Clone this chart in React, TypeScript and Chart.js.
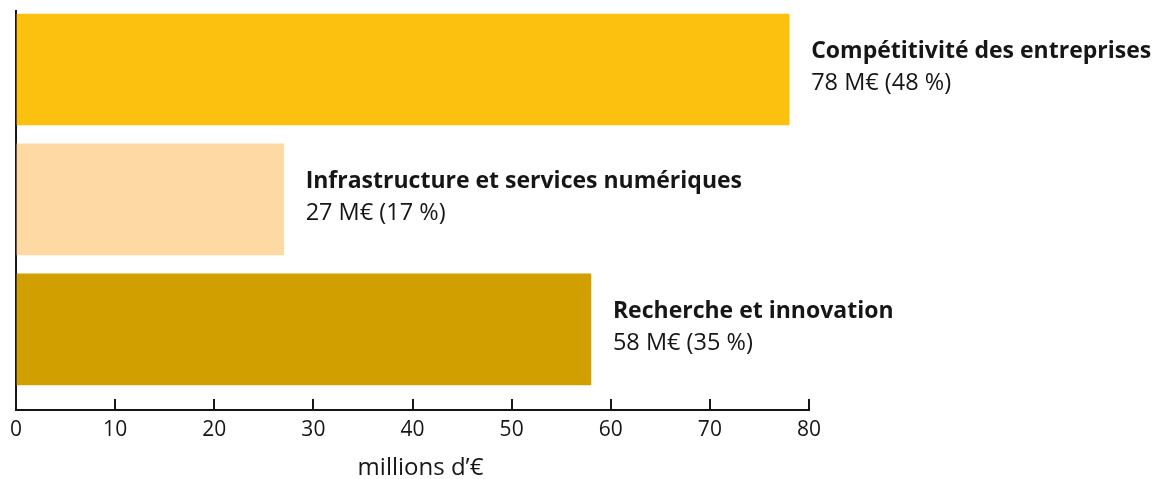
import React, { useEffect, useRef } from "react";
import { Chart, registerables } from "chart.js";

Chart.register(...registerables);

const categories = [
  "Compétitivité des entreprises",
  "Infrastructure et services numériques",
  "Recherche et innovation",
];
const values = [78, 27, 58];
const percents = [48, 17, 35];
const barColors = ["#FCC00F", "#FED9A3", "#D29F00"];
const xMin = 0;
const xMax = 80;
const xStep = 10;
const xTitle = "millions d’€";

const TEXT = "#161616";
const AXIS = "#161616";

const labelPlugin = {
  id: "barLabels",
  afterDatasetsDraw(chart: any) {
    const ctx = chart.ctx;
    const meta = chart.getDatasetMeta(0);
    meta.data.forEach((bar: any, i: number) => {
      const x = bar.x + 22;
      const y = bar.y;
      ctx.save();
      ctx.fillStyle = TEXT;
      ctx.textAlign = "left";
      ctx.textBaseline = "middle";
      ctx.font = "bold 23px 'Open Sans', sans-serif";
      ctx.fillText(categories[i], x, y - 18);
      ctx.font = "23.5px 'Open Sans', sans-serif";
      ctx.fillText(`${values[i]} M€ (${percents[i]} %)`, x, y + 14);
      ctx.restore();
    });
  },
  afterDraw(chart: any) {
    const ctx = chart.ctx;
    const area = chart.chartArea;
    ctx.save();
    ctx.fillStyle = TEXT;
    ctx.textAlign = "center";
    ctx.textBaseline = "middle";
    ctx.font = "24px 'Open Sans', sans-serif";
    ctx.fillText(xTitle, (area.left + area.right) / 2 + 8, chart.height - 11);
    ctx.restore();
  },
};

export default function App() {
  const ref = useRef<HTMLCanvasElement | null>(null);

  useEffect(() => {
    if (!ref.current) return;
    const chart = new Chart(ref.current, {
      type: "bar",
      data: {
        datasets: [
          {
            data: values.map((v, i) => ({ x: v, y: i })),
            backgroundColor: barColors,
            borderWidth: 0,
            barThickness: 111,
          },
        ],
      },
      options: {
        indexAxis: "y",
        animation: false,
        responsive: true,
        maintainAspectRatio: false,
        devicePixelRatio: 1,
        layout: { padding: { left: 16, right: 344, top: 11, bottom: 0 } },
        plugins: {
          legend: { display: false },
          tooltip: { enabled: false },
        },
        scales: {
          x: {
            type: "linear",
            position: "bottom",
            min: xMin,
            max: xMax,
            ticks: {
              stepSize: xStep,
              color: TEXT,
              padding: 0,
              font: { family: "'Open Sans', sans-serif", size: 21, lineHeight: 3 },
            },
            grid: {
              display: true,
              drawOnChartArea: false,
              drawTicks: true,
              tickLength: -11,
              color: AXIS,
              lineWidth: 2,
            },
            border: { display: true, color: AXIS, width: 2 },
            afterFit: (s: any) => {
              s.height = 69;
            },
          },
          y: {
            type: "linear",
            reverse: true,
            offset: false,
            min: -0.45,
            max: 2.62,
            ticks: { display: false },
            grid: { display: false, drawTicks: false, offset: false },
            border: { display: true, color: AXIS, width: 2 },
            afterFit: (s: any) => {
              s.width = 0;
            },
          },
        },
      },
      plugins: [labelPlugin],
    });
    return () => chart.destroy();
  }, []);

  return (
    <div style={{ position: "absolute", left: 0, top: 0, width: 1153, height: 479 }}>
      <canvas ref={ref} />
    </div>
  );
}
